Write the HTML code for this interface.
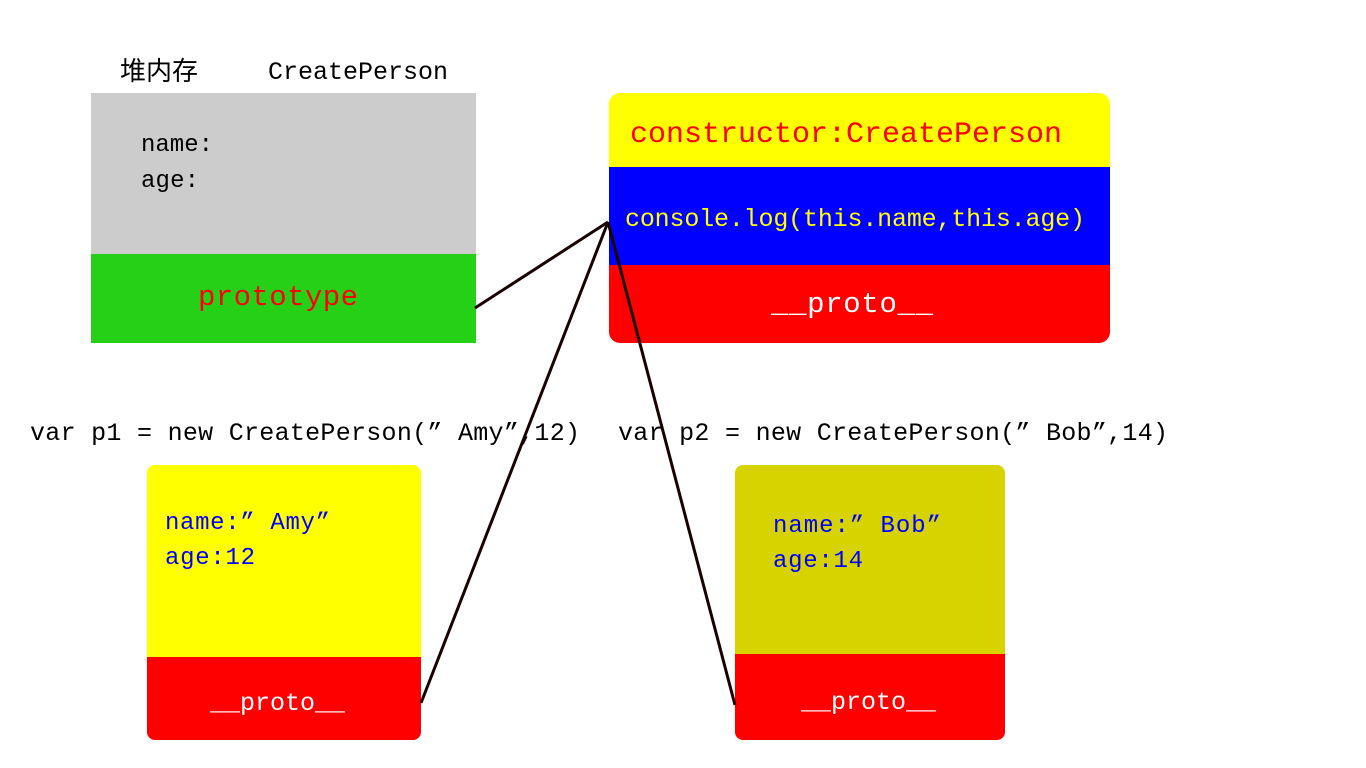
<!DOCTYPE html>
<html><head><meta charset="utf-8"><style>
body{margin:0;background:#fff}
svg{display:block}
text{font-family:"Liberation Mono","Noto Sans CJK SC",monospace}
</style></head><body>
<svg width="1366" height="768" viewBox="0 0 1366 768" xmlns="http://www.w3.org/2000/svg">
<rect width="1366" height="768" fill="#fff"/>
<text x="120" y="80" font-size="26" fill="#000" font-family="Noto Sans CJK SC, sans-serif">堆内存</text>
<text x="268" y="79" font-size="25" fill="#000" textLength="180">CreatePerson</text>
<rect x="91" y="93" width="385" height="161" fill="#cccccc"/>
<rect x="91" y="254" width="385" height="89" fill="#26d016"/>
<text x="141" y="151" font-size="24" textLength="72">name:</text>
<text x="141" y="187" font-size="24" textLength="58">age:</text>
<text x="198" y="305" font-size="29" fill="#ff0000" textLength="160">prototype</text>

<clipPath id="c1"><rect x="609" y="93" width="501" height="250" rx="11"/></clipPath>
<g clip-path="url(#c1)">
<rect x="609" y="93" width="501" height="74" fill="#ffff00"/>
<rect x="609" y="167" width="501" height="98" fill="#0000ff"/>
<rect x="609" y="265" width="501" height="78" fill="#ff0000"/>
</g>
<text x="630" y="142" font-size="30" fill="#ff0000" textLength="432">constructor:CreatePerson</text>
<text x="625" y="226" font-size="25" fill="#ffff00" textLength="460">console.log(this.name,this.age)</text>
<text x="771" y="312" font-size="29" fill="#fff" textLength="162">__proto__</text>

<text x="30" y="440" font-size="25" textLength="550">var p1 = new CreatePerson(” Amy”,12)</text>
<text x="618" y="440" font-size="25" textLength="550">var p2 = new CreatePerson(” Bob”,14)</text>

<clipPath id="c2"><rect x="147" y="465" width="274" height="275" rx="8"/></clipPath>
<g clip-path="url(#c2)">
<rect x="147" y="465" width="274" height="192" fill="#ffff00"/>
<rect x="147" y="657" width="274" height="83" fill="#ff0000"/>
</g>
<text x="165" y="529" font-size="24" fill="#0000ff" textLength="165">name:” Amy”</text>
<text x="165" y="564" font-size="24" fill="#0000ff" textLength="90">age:12</text>
<text x="210" y="710" font-size="25" fill="#fff" textLength="135">__proto__</text>

<clipPath id="c3"><rect x="735" y="465" width="270" height="275" rx="8"/></clipPath>
<g clip-path="url(#c3)">
<rect x="735" y="465" width="270" height="189" fill="#d6d300"/>
<rect x="735" y="654" width="270" height="86" fill="#ff0000"/>
</g>
<text x="773" y="532" font-size="24" fill="#0000ff" textLength="168">name:” Bob”</text>
<text x="773" y="567" font-size="24" fill="#0000ff" textLength="90">age:14</text>
<text x="801" y="709" font-size="25" fill="#fff" textLength="135">__proto__</text>

<g stroke="#1a0000" stroke-width="3" fill="none">
<line x1="475" y1="308" x2="608" y2="222"/>
<line x1="608" y1="222" x2="421" y2="703"/>
<line x1="608" y1="222" x2="735" y2="705"/>
</g>
</svg>
</body></html>
